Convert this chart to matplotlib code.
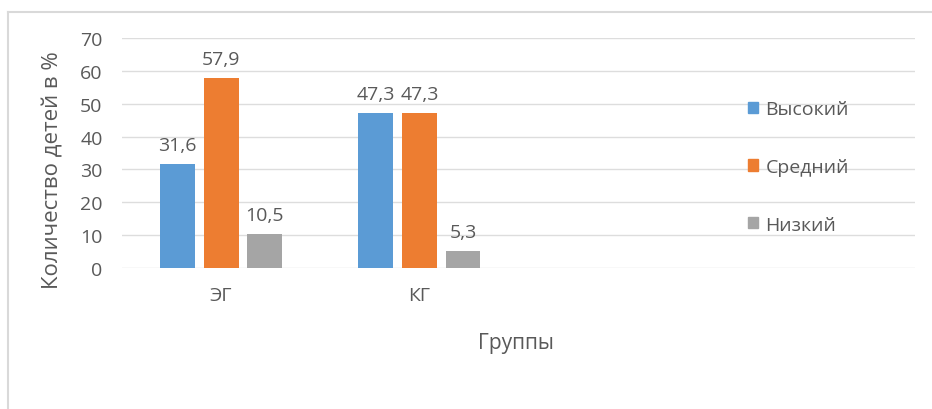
import matplotlib.pyplot as plt
import numpy as np
from matplotlib.patches import Patch

plt.rcParams['font.family'] = ['Open Sans', 'DejaVu Sans']

groups = ['ЭГ', 'КГ', '', '']
series = ['Высокий', 'Средний', 'Низкий']
high = [31.6, 47.3]
mid = [57.9, 47.3]
low = [10.5, 5.3]
colors = ['#5B9BD5', '#ED7D31', '#A5A5A5']
txt = '#595959'

fig = plt.figure(figsize=(9.32, 4.10), dpi=100)
ax = fig.add_axes([122 / 932, 1 - 269 / 410, (915 - 122) / 932, 230 / 410])

x = np.arange(len(high))
w = 0.176
for i, (vals, c) in enumerate(zip([high, mid, low], colors)):
    bars = ax.bar(x + (i - 1) * 0.22, vals, w, color=c, zorder=3)
    ax.bar_label(bars, labels=[f'{v:.1f}'.replace('.', ',') for v in vals],
                 padding=7, color=txt, fontsize=14)

ax.set_xlim(-0.5, 3.5)
ax.set_ylim(0, 70)
ax.set_yticks(range(0, 71, 10))
ax.set_xticks(range(len(groups)))
ax.set_xticklabels(groups)
ax.tick_params(length=0, colors=txt, labelsize=14)
ax.tick_params(axis='x', pad=13)
ax.tick_params(axis='y', pad=14)
ax.grid(axis='y', color='#DDDDDD', linewidth=1, zorder=0)
for s in ax.spines.values():
    s.set_visible(False)

ax.set_ylabel('Количество детей в %', color=txt, fontsize=16)
ax.yaxis.set_label_coords(-0.074, 0.43)
ax.set_xlabel('Группы', color=txt, fontsize=15)
ax.xaxis.set_label_coords(0.497, -0.28)

handles = [Patch(color=c) for c in colors]
fig.legend(handles, series, loc='upper left', bbox_to_anchor=(748 / 932, 1 - 101 / 410),
           frameon=False, fontsize=14, labelcolor=txt, handlelength=0.5,
           handleheight=0.5, handletextpad=0.4, labelspacing=2.05, borderpad=0,
           borderaxespad=0)

# chart frame (top and left edges visible in the crop)
fig.add_artist(plt.Line2D([8 / 932, 1], [1 - 13 / 410] * 2, color='#D9D9D9', lw=1.5))
fig.add_artist(plt.Line2D([8 / 932] * 2, [0, 1 - 13 / 410], color='#D9D9D9', lw=1.5))

fig.savefig('out.png', dpi=100)
